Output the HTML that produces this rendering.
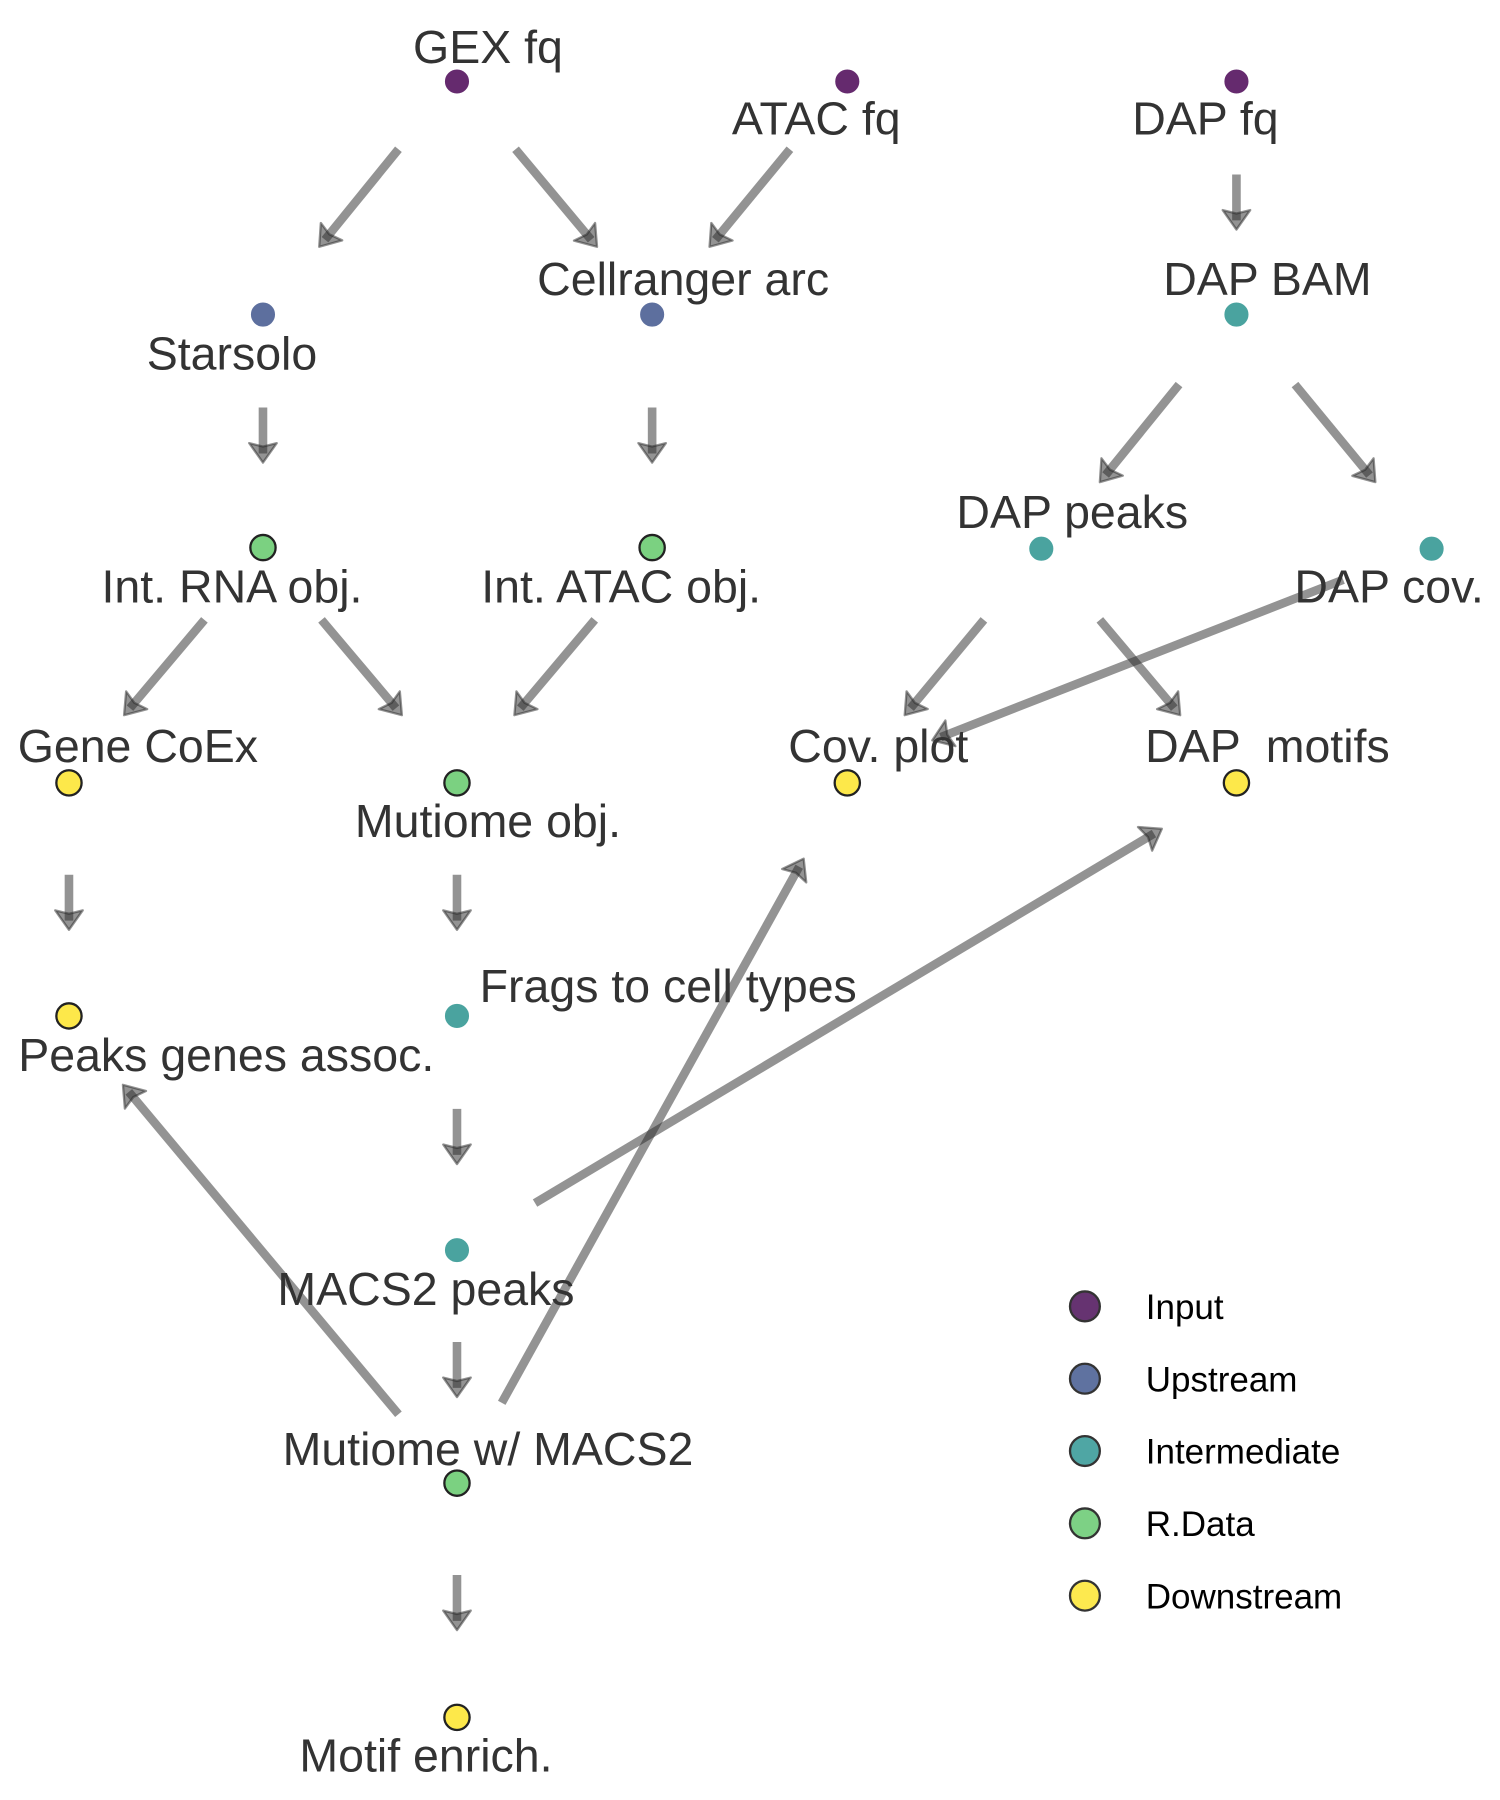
<!DOCTYPE html>
<html><head><meta charset="utf-8"><style>
html,body{margin:0;padding:0;background:#fff;}
svg{display:block;}
text{font-family:"Liberation Sans",Arial,sans-serif;}
.l{font-size:40.5px;fill:#333;text-anchor:middle;}
.g{font-size:30.5px;fill:#000;}
.e{stroke:rgba(40,40,40,0.5);stroke-width:7.5;fill:none;}
</style></head><body>
<svg id="s" width="1500" height="1800" viewBox="0 0 1306.5 1568" xmlns="http://www.w3.org/2000/svg">
<g id="edges"></g>
<g stroke="#fff" stroke-width="1">
<circle cx="398" cy="71" r="11" fill="#652a6e"/>
<circle cx="738" cy="71" r="11" fill="#652a6e"/>
<circle cx="1077" cy="71" r="11" fill="#652a6e"/>
<circle cx="229" cy="274" r="11" fill="#5d6f9e"/>
<circle cx="568" cy="274" r="11" fill="#5d6f9e"/>
<circle cx="1077" cy="274" r="11" fill="#4aa39f"/>
<circle cx="907" cy="478" r="11" fill="#4aa39f"/>
<circle cx="1247" cy="478" r="11" fill="#4aa39f"/>
<circle cx="398" cy="885" r="11" fill="#4aa39f"/>
<circle cx="398" cy="1089" r="11" fill="#4aa39f"/>
</g>
<g stroke="#222" stroke-width="2">
<circle cx="229" cy="477" r="11" fill="#7bd181"/>
<circle cx="568" cy="477" r="11" fill="#7bd181"/>
<circle cx="398" cy="682" r="11" fill="#7bd181"/>
<circle cx="398" cy="1292" r="11" fill="#7bd181"/>
<circle cx="60" cy="682" r="11" fill="#fde84a"/>
<circle cx="738" cy="682" r="11" fill="#fde84a"/>
<circle cx="1077" cy="682" r="11" fill="#fde84a"/>
<circle cx="60" cy="885" r="11" fill="#fde84a"/>
<circle cx="398" cy="1496" r="11" fill="#fde84a"/>
</g>
<text class="l" x="425" y="55">GEX fq</text>
<text class="l" x="711" y="117">ATAC fq</text>
<text class="l" x="1050" y="117">DAP fq</text>
<text class="l" x="202" y="322">Starsolo</text>
<text class="l" x="595" y="257">Cellranger arc</text>
<text class="l" x="1104" y="257">DAP BAM</text>
<text class="l" x="202" y="525">Int. RNA obj.</text>
<text class="l" x="541" y="525">Int. ATAC obj.</text>
<text class="l" x="934" y="460">DAP peaks</text>
<text class="l" x="1210" y="525">DAP cov.</text>
<text class="l" x="120" y="664">Gene CoEx</text>
<text class="l" x="425" y="729">Mutiome obj.</text>
<text class="l" x="765" y="664">Cov. plot</text>
<text class="l" x="1104" y="664" xml:space="preserve">DAP  motifs</text>
<text class="l" x="197" y="933">Peaks genes assoc.</text>
<text class="l" x="582" y="873">Frags to cell types</text>
<text class="l" x="371" y="1137">MACS2 peaks</text>
<text class="l" x="425" y="1276">Mutiome w/ MACS2</text>
<text class="l" x="371" y="1543">Motif enrich.</text>
<g stroke="#333" stroke-width="2">
<circle cx="945" cy="1138" r="13" fill="#663371"/>
<circle cx="945" cy="1201" r="13" fill="#5f72a0"/>
<circle cx="945" cy="1264" r="13" fill="#4fa6a4"/>
<circle cx="945" cy="1327" r="13" fill="#7dd185"/>
<circle cx="945" cy="1390" r="13" fill="#fde94f"/>
</g>
<text class="g" x="998" y="1149">Input</text>
<text class="g" x="998" y="1212">Upstream</text>
<text class="g" x="998" y="1275">Intermediate</text>
<text class="g" x="998" y="1338">R.Data</text>
<text class="g" x="998" y="1401">Downstream</text>
</svg>
<script>
var E=[[347,130,278,215],[449,130,520,215],[688,130,618,215],[1077,152,1077,200],[229,355,229,403],[568,355,568,403],
[1027,335,958,420],[1128,335,1198,420],[178,540,108,623],[280,540,350,623],[518,540,448,623],[857,540,788,623],
[958,540,1028,623],[1170,505,812,645],[60,762,60,810],[398,762,398,810],[398,966,398,1014],[466,1048,1012,722],
[398,1169,398,1217],[347,1232,107,945],[437,1222,700,748],[398,1372,398,1420]];
var g=document.getElementById('edges'),h='';
E.forEach(function(e){
 var dx=e[2]-e[0],dy=e[3]-e[1],L=Math.sqrt(dx*dx+dy*dy),ux=dx/L,uy=dy/L,px=-uy,py=ux;
 var tx=e[2],ty=e[3],bl=17,hw=12;
 var ex=tx-ux*8,ey=ty-uy*8;
 h+='<line class="e" x1="'+e[0]+'" y1="'+e[1]+'" x2="'+ex+'" y2="'+ey+'"/>';
 var b1x=tx-ux*bl+px*hw,b1y=ty-uy*bl+py*hw,b2x=tx-ux*bl-px*hw,b2y=ty-uy*bl-py*hw,nx=tx-ux*14,ny=ty-uy*14;
 h+='<polygon points="'+tx+','+ty+' '+b1x+','+b1y+' '+nx+','+ny+' '+b2x+','+b2y+'" fill="rgba(40,40,40,0.5)" stroke="rgba(40,40,40,0.5)" stroke-width="2" stroke-linejoin="round"/>';
});
g.innerHTML=h;
</script>
</body></html>
